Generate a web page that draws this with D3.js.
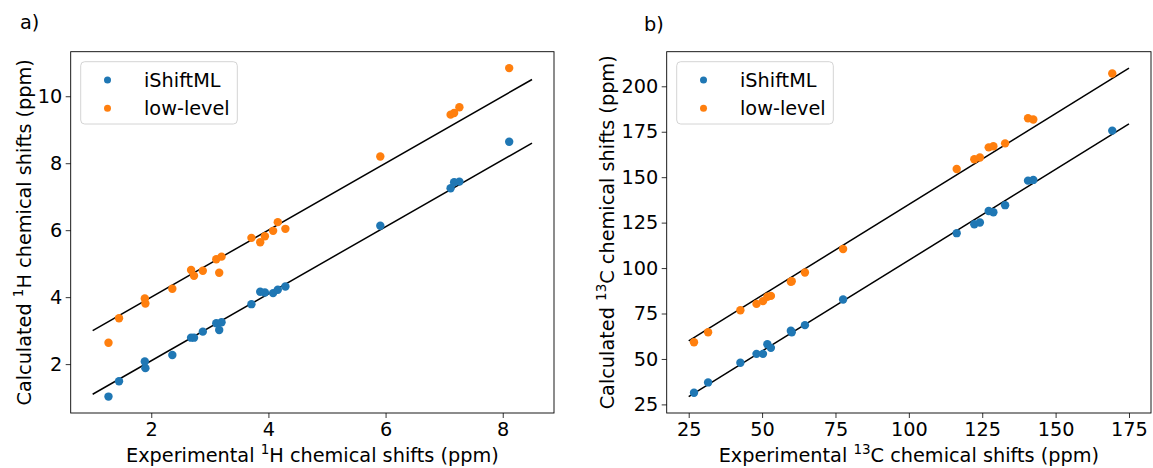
<!DOCTYPE html>
<html>
<head>
<meta charset="utf-8">
<title>Chemical shifts</title>
<script src="https://d3js.org/d3.v7.min.js"></script>
<style>
  body { margin: 0; background: #fff; }
  svg text { font-family: "DejaVu Sans", sans-serif; fill: #000; }
  .tick line { stroke: #000; stroke-width: 0.8; }
  .tick text { font-size: 19.3px; }
</style>
</head>
<body>
<div id="chart"></div>
<script>
// ---- data ----
// panel a) 1H
var hExp  = [1.27, 1.45, 1.89, 1.90, 2.36, 2.68, 2.73, 2.88, 3.11, 3.20, 3.16,
             3.71, 3.86, 3.94, 4.08, 4.16, 4.29, 5.91, 7.11, 7.17, 7.26, 8.11];
var hML   = [1.03, 1.49, 2.08, 1.88, 2.27, 2.79, 2.79, 2.97, 3.22, 3.25, 3.02,
             3.79, 4.16, 4.14, 4.12, 4.22, 4.32, 6.13, 7.25, 7.43, 7.45, 8.64];
var hLow  = [2.64, 3.37, 3.96, 3.81, 4.25, 4.81, 4.64, 4.79, 5.13, 5.21, 4.73,
             5.77, 5.64, 5.82, 5.98, 6.24, 6.04, 8.20, 9.45, 9.50, 9.67, 10.84];
var hLineX   = [1.0, 8.5];
var hLineML  = [1.1, 8.6];
var hLineLow = [3.0, 10.5];
var hTicksX = [2, 4, 6, 8];
var hTicksY = [2, 4, 6, 8, 10];

// panel b) 13C
var cExp  = [26.8, 31.6, 42.6, 48.1, 50.3, 51.8, 53.0, 59.8, 60.1, 64.6,
             77.6, 116.3, 122.3, 124.2, 127.2, 128.8, 132.8, 140.6, 142.4, 169.3];
var cML   = [31.4, 37.1, 47.9, 52.8, 52.8, 58.1, 56.1, 65.5, 64.7, 68.6,
             82.7, 119.2, 124.1, 125.1, 131.4, 130.7, 134.6, 148.1, 148.5, 175.6];
var cLow  = [59.2, 64.7, 76.8, 80.3, 81.8, 84.2, 84.7, 92.5, 92.8, 97.6,
             110.5, 154.5, 159.9, 160.8, 166.4, 167.0, 168.6, 182.4, 181.7, 207.0];
var cLineX   = [25, 175];
var cLineML  = [29.3, 179.3];
var cLineLow = [60, 210];
var cTicksX = [25, 50, 75, 100, 125, 150, 175];
var cTicksY = [25, 50, 75, 100, 125, 150, 175, 200];

var seriesNames = ["iShiftML", "low-level"];
var colors = ["#1f77b4", "#ff7f0e"];

var fs = "19.3px", fsSup = "13.5px";

var svg = d3.select("#chart").append("svg")
  .attr("width", 1153).attr("height", 468);

function drawPanel(p) {
  var left = p.left, top = 51.7, w = p.w, h = 361.3;
  var x = d3.scaleLinear().domain(p.xDom).range([0, w]);
  var y = d3.scaleLinear().domain(p.yDom).range([h, 0]);

  var g = svg.append("g").attr("transform", "translate(" + left + "," + top + ")");

  // axes
  g.append("g").attr("transform", "translate(0," + h + ")")
    .call(d3.axisBottom(x).tickValues(p.ticksX).tickSize(5).tickPadding(4.5))
    .call(a => a.select(".domain").remove());
  g.append("g")
    .call(d3.axisLeft(y).tickValues(p.ticksY).tickSize(5).tickPadding(3.5))
    .call(a => a.select(".domain").remove());

  // fit lines
  [p.lineML, p.lineLow].forEach(function(ly) {
    g.append("line")
      .attr("x1", x(p.lineX[0])).attr("y1", y(ly[0]))
      .attr("x2", x(p.lineX[1])).attr("y2", y(ly[1]))
      .attr("stroke", "#000").attr("stroke-width", 1.5);
  });

  // points
  [p.ml, p.low].forEach(function(vals, s) {
    g.selectAll(null).data(vals).enter().append("circle")
      .attr("cx", (d, i) => x(p.exp[i]))
      .attr("cy", d => y(d))
      .attr("r", 4.2)
      .attr("fill", colors[s]);
  });

  // frame
  g.append("rect").attr("width", w).attr("height", h)
    .attr("fill", "none").attr("stroke", "#000").attr("stroke-width", 0.9);

  // legend
  var lg = g.append("g").attr("transform", "translate(10,10)");
  lg.append("rect").attr("width", 156.6).attr("height", 62.3)
    .attr("rx", 4).attr("fill", "#fff").attr("fill-opacity", 0.8)
    .attr("stroke", "#d4d4d4").attr("stroke-width", 1);
  seriesNames.forEach(function(name, i) {
    lg.append("circle").attr("cx", 26.8).attr("cy", 18.3 + i * 28.3)
      .attr("r", 3.5).attr("fill", colors[i]);
    lg.append("text").attr("x", 63.3).attr("y", 18.3 + i * 28.3 + 7)
      .style("font-size", fs).text(name);
  });

  // x label
  var xl = g.append("text").attr("x", w / 2).attr("y", h + 49)
    .attr("text-anchor", "middle").style("font-size", fs);
  xl.append("tspan").text("Experimental ");
  xl.append("tspan").attr("dy", -8).style("font-size", fsSup).text(p.iso);
  xl.append("tspan").attr("dy", 8).text(p.el + " chemical shifts (ppm)");

  // y label
  var yl = g.append("text")
    .attr("transform", "translate(" + (-p.yLabOff) + "," + (h / 2) + ") rotate(-90)")
    .attr("text-anchor", "middle").style("font-size", fs);
  yl.append("tspan").text("Calculated ");
  yl.append("tspan").attr("dy", -8).style("font-size", fsSup).text(p.iso);
  yl.append("tspan").attr("dy", 8).text(p.el + " chemical shifts (ppm)");

  // panel letter
  svg.append("text").attr("x", p.letterX).attr("y", p.letterY)
    .style("font-size", fs).text(p.letter);
}

drawPanel({
  left: 70.7, w: 483.3, xDom: [0.625, 8.875], yDom: [0.54, 11.33],
  ticksX: hTicksX, ticksY: hTicksY,
  exp: hExp, ml: hML, low: hLow,
  lineX: hLineX, lineML: hLineML, lineLow: hLineLow,
  iso: "1", el: "H", yLabOff: 39.2,
  letter: "a)", letterX: 20, letterY: 29
});

drawPanel({
  left: 666.7, w: 484.3, xDom: [17.5, 182.5], yDom: [20.27, 219.03],
  ticksX: cTicksX, ticksY: cTicksY,
  exp: cExp, ml: cML, low: cLow,
  lineX: cLineX, lineML: cLineML, lineLow: cLineLow,
  iso: "13", el: "C", yLabOff: 52.7,
  letter: "b)", letterX: 644, letterY: 31
});
</script>
</body>
</html>
